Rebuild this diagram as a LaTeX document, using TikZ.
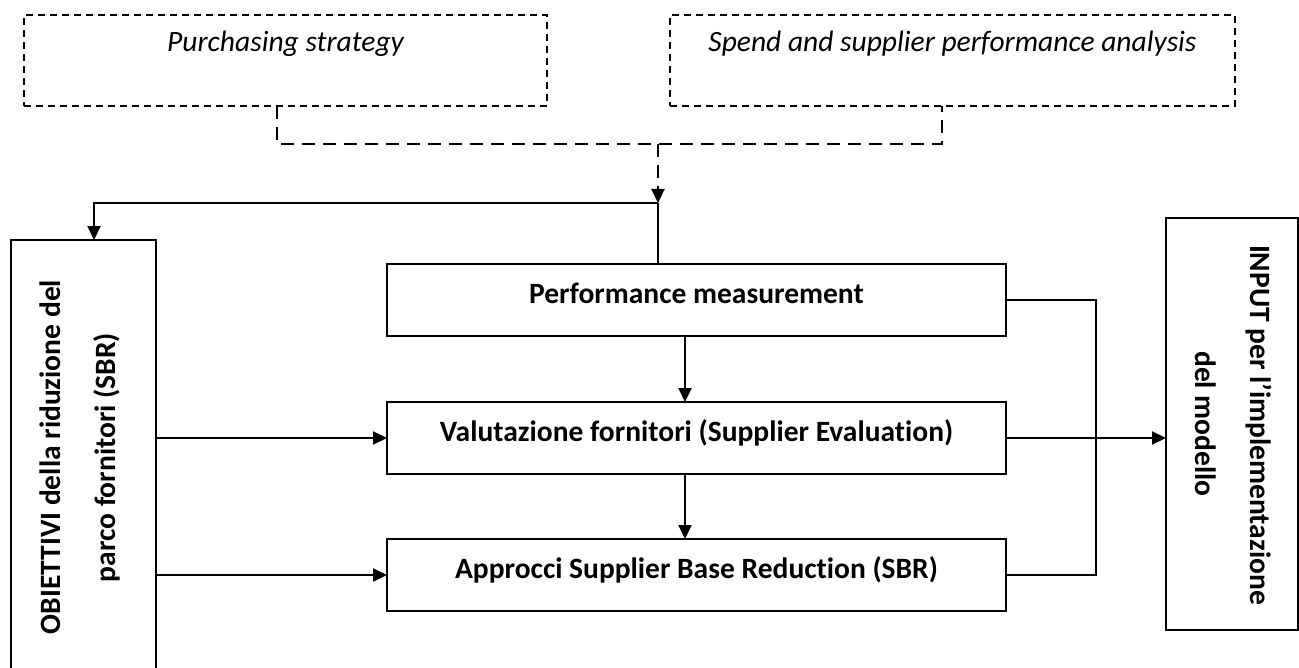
\documentclass[tikz,border=0pt]{standalone}
\usepackage{fontspec}
\setmainfont{Carlito}[Ligatures={NoCommon,NoRequired,NoContextual},Contextuals=NoAlternate]
\usetikzlibrary{arrows.meta,calc}
\begin{document}
\begin{tikzpicture}[x=0.5pt,y=-0.5pt,
  every node/.style={inner sep=0pt, outer sep=0pt},
  box/.style={draw, line width=1pt, font=\fontsize{14.75}{26.5}\selectfont\bfseries, align=center},
  sidetext/.style={font=\fontsize{14.75}{18}\selectfont\bfseries, anchor=base},
  midbox/.style={box, minimum width=309.5pt, minimum height=36pt, text height=5pt, text depth=2pt},
  topbox/.style={draw, line width=1pt, dash pattern=on 3.5pt off 2.5pt, font=\fontsize{14.75}{18}\selectfont\itshape, minimum height=45.5pt, text height=0pt, text depth=8.5pt},
  conn/.style={line width=1pt},
  dconn/.style={line width=1pt, dash pattern=on 6.5pt off 4pt},
  arr/.style={-{Triangle[length=7pt,width=6.5pt]}}
]
\useasboundingbox (0,0) rectangle (1299,668);
\clip (0,0) rectangle (1299,668);
% top dashed boxes
\node[topbox, minimum width=261.5pt] (ps) at (285.5,60.5) {Purchasing strategy};
\node[topbox, minimum width=282.5pt] (sa) at (952.5,60.5) {Spend and supplier performance analysis};
% middle boxes
\node[midbox] (perf) at (696.5,300) {Performance measurement};
\node[midbox] (val) at (696.5,438) {Valutazione fornitori (Supplier Evaluation)};
\node[midbox] (appr) at (696.5,575) {Approcci Supplier Base Reduction (SBR)};
% side boxes
\node[box, rotate=90, minimum width=217pt, minimum height=72.5pt] (obj) at (83.5,457) {};
\node[sidetext, rotate=90] (objt1) at (60,457) {OBIETTIVI della riduzione del};
\node[sidetext, rotate=90] (objt2) at (115,457.5) {parco fornitori (SBR)};
\node[box, rotate=-90, minimum width=206pt, minimum height=66pt] (inp) at (1232,424) {};
\node[sidetext, rotate=-90] (inpt1) at (1250,425) {INPUT per l’implementazione};
\node[sidetext, rotate=-90] (inpt2) at (1195,424) {del modello};
% coordinates
\coordinate (j1) at (277,144);
\coordinate (j2) at (942,144);
\coordinate (m) at (658,144);
\coordinate (s) at (658,203);
\coordinate (lc) at (94,203);
\coordinate (va) at (685,0);
\coordinate (bx) at (1096,0);
% dashed merge
\draw[dconn] (ps.south -| j1) -- (j1) -- (j2) -- (sa.south -| j2);
\draw[dconn, arr] (m) -- (s);
% solid
\draw[conn] (perf.north -| s) -- (s);
\draw[conn, arr] (s) -- (lc) -- (obj.east -| lc);
\draw[conn, arr] (perf.south -| va) -- (val.north -| va);
\draw[conn, arr] (val.south -| va) -- (appr.north -| va);
\draw[conn, arr] (obj.south |- val.west) -- (val.west);
\draw[conn, arr] (obj.south |- appr.west) -- (appr.west);
\draw[conn] (perf.east) -- (perf.east -| bx) -- (appr.east -| bx) -- (appr.east);
\draw[conn, arr] (val.east) -- (val.east -| inp.south);
\end{tikzpicture}
\end{document}
